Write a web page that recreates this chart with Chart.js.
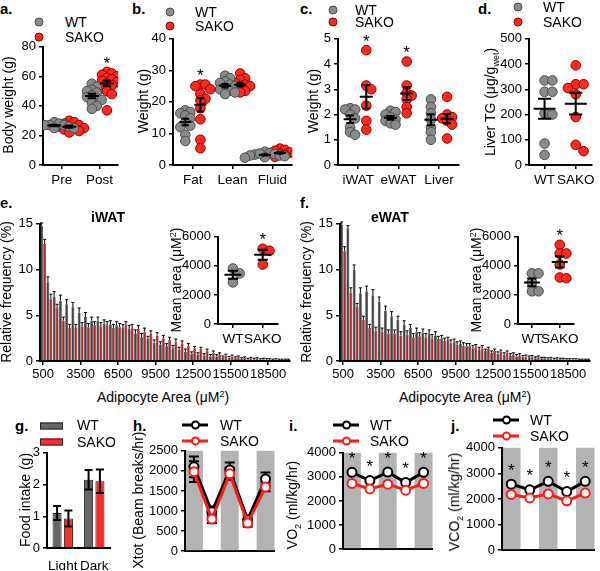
<!DOCTYPE html>
<html>
<head>
<meta charset="utf-8">
<script src="https://cdn.jsdelivr.net/npm/chart.js@4.4.1/dist/chart.umd.min.js"></script>
<style>
body { margin:0; background:#fff; width:600px; height:571px; position:relative; overflow:hidden;
       font-family:"Liberation Sans", Arial, sans-serif; color:#000; }
canvas { position:absolute; }
.t { position:absolute; white-space:nowrap; font-size:14px; line-height:1; transform:translateY(-50%); }
.tc { position:absolute; white-space:nowrap; font-size:14px; line-height:1; transform:translate(-50%,-50%); }
.yt { position:absolute; white-space:nowrap; font-size:14px; line-height:1; transform:translate(-50%,-50%) rotate(-90deg); }
.b { font-weight:bold; }
.lt { font-weight:bold; font-size:15px; }
sub, sup { font-size:9px; }
.dot { position:absolute; width:9px; height:9px; border-radius:50%; transform:translate(-50%,-50%); box-sizing:border-box; border:1px solid; }
.rect { position:absolute; width:23px; height:7px; transform:translateY(-50%); box-sizing:border-box; border:1px solid #222; }
.ln { position:absolute; width:26px; height:3px; transform:translateY(-50%); }
.ln i { position:absolute; left:9px; top:-3px; width:9px; height:9px; border-radius:50%; background:#fff; box-sizing:border-box; border:2px solid; }
</style>
</head>
<body>
<script>
// ---- data ----
var bodyCats = ['Pre', 'Post'];
var bodyWT = [[29, 28, 27, 27, 26, 26, 25, 25, 27], [55, 53, 51, 50, 49, 47, 46, 45, 44, 42, 40, 38]];
var bodyKO = [[30, 29, 28, 27, 26, 26, 25, 25, 24, 23, 22], [63, 62, 61, 60, 59, 58, 57, 56, 55, 54, 52, 50, 48, 37]];

var compCats = ['Fat', 'Lean', 'Fluid'];
var compWT = [[17.3, 16.8, 16.4, 15.7, 14.8, 13.5, 12.5, 12.0, 9.6, 7.6],
              [28.3, 27.5, 26.5, 26, 25.5, 25, 24.5, 24, 23.5, 23, 22.5],
              [4.2, 3.8, 3.5, 3.3, 3.0, 3.0, 2.8, 2.5, 2.3, 3.6]];
var compKO = [[25.5, 25.5, 25, 24, 22.5, 21, 20.5, 18, 14.5, 8, 5.3],
              [29, 27.5, 27, 26, 25.5, 25, 25, 24.5, 24, 23.5, 23],
              [5.2, 4.8, 4.5, 4.0, 3.8, 3.6, 3.5, 3.2, 3.0, 2.6]];

var tisCats = ['iWAT', 'eWAT', 'Liver'];
var tisWT = [[2.25, 2.2, 2.2, 2.0, 1.85, 1.5, 1.3, 1.2],
             [2.15, 2.1, 2.0, 1.9, 1.8, 1.75, 1.65, 1.6],
             [2.6, 2.3, 2.05, 1.8, 1.5, 1.3, 1.0]];
var tisKO = [[4.55, 3.15, 3.0, 2.35, 1.75, 1.4],
             [4.1, 3.15, 2.85, 2.75, 2.6, 2.3, 2.05],
             [2.7, 2.0, 1.9, 1.85, 1.75, 1.6, 1.05]];

var genoCats = ['WT', 'SAKO'];
var tgWT = [335, 335, 290, 290, 205, 200, 85, 40];
var tgKO = [395, 320, 320, 305, 280, 190, 80, 55];

var areaWTi = [3820, 3480, 2860];
var areaKOi = [5180, 5040, 4090];
var areaWTe = [3480, 3480, 2860, 2250, 2250];
var areaKOe = [5450, 4850, 4850, 4100, 3200, 3150];

var histBins = ['500','1000','1500','2000','2500','3000','3500','4000','4500','5000',
                '5500','6000','6500','7000','7500','8000','8500','9000','9500','10000',
                '10500','11000','11500','12000','12500','13000','13500','14000','14500','15000',
                '15500','16000','16500','17000','17500','18000','18500','19000','19500','20000'];
var iwatWT = [14.8, 8.6, 7.0, 6.6, 6.2, 5.9, 5.3, 4.8, 4.4, 4.4, 4.1, 4.0, 3.9, 3.6, 3.5, 3.0, 2.6, 2.4, 2.0, 1.8,
              1.6, 1.4, 1.2, 1.0, 0.8, 0.7, 0.6, 0.5, 0.5, 0.4, 0.35, 0.3, 0.25, 0.2, 0.2, 0.15, 0.15, 0.1, 0.1, 0.1];
var iwatWTerr = [0.3, 0.6, 0.6, 0.6, 0.5, 0.5, 0.5, 0.5, 0.4, 0.4, 0.4, 0.4, 0.4, 0.4, 0.4, 0.4, 0.4, 0.3, 0.3, 0.3,
                 0.3, 0.3, 0.3, 0.3, 0.2, 0.2, 0.2, 0.2, 0.2, 0.15, 0.15, 0.15, 0.1, 0.1, 0.1, 0.1, 0.1, 0.1, 0.1, 0.1];
var iwatKO = [12.8, 6.8, 5.8, 4.4, 3.6, 3.6, 3.8, 3.7, 3.9, 3.8, 3.9, 3.6, 3.7, 3.9, 3.6, 3.5, 3.2, 3.0, 2.8, 2.5,
              2.3, 2.1, 1.9, 1.6, 1.4, 1.3, 1.1, 0.9, 0.7, 0.6, 0.5, 0.4, 0.35, 0.3, 0.25, 0.2, 0.15, 0.15, 0.1, 0.1];
var iwatKOerr = [0.5, 0.5, 0.4, 0.4, 0.4, 0.4, 0.4, 0.4, 0.4, 0.4, 0.4, 0.4, 0.4, 0.4, 0.4, 0.4, 0.4, 0.3, 0.3, 0.3,
                 0.3, 0.3, 0.3, 0.3, 0.2, 0.2, 0.2, 0.2, 0.2, 0.15, 0.15, 0.15, 0.1, 0.1, 0.1, 0.1, 0.1, 0.1, 0.1, 0.1];
var ewatWT = [14.9, 14.5, 10.0, 7.4, 7.6, 7.2, 6.5, 5.5, 4.9, 4.5, 4.0, 3.6, 3.2, 3.1, 3.0, 2.8, 2.5, 2.3, 2.1, 1.9,
              1.6, 1.4, 1.2, 1.1, 0.9, 0.8, 0.7, 0.6, 0.5, 0.45, 0.4, 0.3, 0.3, 0.25, 0.2, 0.2, 0.15, 0.15, 0.1, 0.1];
var ewatWTerr = [0.3, 0.3, 0.5, 0.6, 0.6, 0.6, 0.5, 0.5, 0.5, 0.4, 0.4, 0.4, 0.4, 0.4, 0.4, 0.4, 0.3, 0.3, 0.3, 0.3,
                 0.3, 0.3, 0.3, 0.2, 0.2, 0.2, 0.2, 0.2, 0.2, 0.15, 0.15, 0.15, 0.1, 0.1, 0.1, 0.1, 0.1, 0.1, 0.1, 0.1];
var ewatKO = [12.0, 7.5, 5.9, 4.5, 3.6, 3.3, 3.2, 3.0, 3.0, 2.8, 2.9, 2.6, 2.7, 2.6, 2.5, 2.4, 2.2, 2.0, 1.8, 1.7,
              1.6, 1.5, 1.4, 1.3, 1.1, 1.0, 0.9, 0.7, 0.6, 0.5, 0.45, 0.4, 0.3, 0.3, 0.25, 0.2, 0.15, 0.15, 0.1, 0.1];
var ewatKOerr = [0.5, 0.5, 0.4, 0.4, 0.4, 0.4, 0.4, 0.4, 0.4, 0.4, 0.4, 0.4, 0.4, 0.4, 0.4, 0.3, 0.3, 0.3, 0.3, 0.3,
                 0.3, 0.3, 0.3, 0.2, 0.2, 0.2, 0.2, 0.2, 0.2, 0.15, 0.15, 0.15, 0.1, 0.1, 0.1, 0.1, 0.1, 0.1, 0.1, 0.1];

var foodCats = ['Light', 'Dark'];
var foodWT = [1.1, 2.15];
var foodWTerr = [0.22, 0.31];
var foodKO = [0.93, 2.1];
var foodKOerr = [0.25, 0.37];

var phases = ['Dark', 'Light', 'Dark', 'Light', 'Dark'];
var xtotWT = [2100, 980, 2020, 780, 1800];
var xtotWTerr = [260, 130, 190, 110, 160];
var xtotKO = [1980, 800, 1930, 700, 1600];
var xtotKOerr = [260, 100, 150, 90, 110];
var vo2WT = [3190, 2850, 3200, 2770, 3190];
var vo2KO = [2730, 2500, 2700, 2450, 2730];
var vco2WT = [2580, 2360, 2690, 2290, 2690];
var vco2KO = [2180, 2040, 2200, 1930, 2230];

// ---- setup ----
Chart.defaults.font.family = "'Liberation Sans', Arial, sans-serif";
Chart.defaults.font.size = 13;
Chart.defaults.color = '#000';
Chart.defaults.animation = false;
Chart.defaults.plugins.legend.display = false;
Chart.defaults.plugins.tooltip.enabled = false;

var GRAY = '#8a8a8a', GRAYLINE = '#4a4a4a', RED = '#ff2a1f', REDLINE = '#8a0000';

function txt(html, x, y, cls) {
	var d = document.createElement('div');
	d.className = cls || 't';
	d.innerHTML = html;
	d.style.left = x + 'px';
	d.style.top = y + 'px';
	document.body.appendChild(d);
	return d;
}
function dotKey(x, y, fill, line) {
	var d = txt('', x, y, 'dot');
	d.style.background = fill; d.style.borderColor = line;
}
function rectKey(x, y, fill) {
	var d = txt('', x, y, 'rect');
	d.style.background = fill;
}
function lineKey(x, y, col) {
	var d = txt('<i></i>', x, y, 'ln');
	d.style.background = col;
	d.firstChild.style.borderColor = col;
}

function yAxis(min, max, step) {
	return {
		min: min, max: max,
		ticks: { stepSize: step, padding: 3, font: { size: 13 }, callback: function(v) { return String(v); } },
		grid: { display: true, drawOnChartArea: false, drawTicks: true, tickLength: 4, color: '#000', lineWidth: 1.5 },
		border: { display: true, color: '#000', width: 2 }
	};
}

// place a chart so that its plot area is at area = [left, top, right, bottom]
function panel(area, pad, cfg) {
	var x0 = area[0] - pad.y, y0 = area[1] - pad.t;
	var w = area[2] + pad.r - x0, h = area[3] + pad.x - y0;
	var cv = document.createElement('canvas');
	cv.width = w; cv.height = h;
	cv.style.left = x0 + 'px'; cv.style.top = y0 + 'px';
	cv.style.width = w + 'px'; cv.style.height = h + 'px';
	document.body.appendChild(cv);
	cfg.options.responsive = false;
	cfg.options.layout = { padding: { top: pad.t, right: pad.r, left: 0, bottom: 0 } };
	cfg.options.scales.x.afterFit = function(s) { s.height = pad.x; };
	cfg.options.scales.y.afterFit = function(s) { s.width = pad.y; };
	return new Chart(cv, cfg);
}

// simple beeswarm so dots of similar value sit side by side
function swarm(vals, center, dx, dy) {
	var placed = [], out = [];
	var order = vals.map(function(v, i) { return i; }).sort(function(a, b) { return vals[b] - vals[a]; });
	var slots = [0, 1, -1, 2, -2, 3, -3, 4, -4];
	order.forEach(function(i) {
		var v = vals[i];
		for (var k = 0; k < slots.length; k++) {
			var s = slots[k];
			var clash = placed.some(function(p) { return p.s === s && Math.abs(p.v - v) < dy; });
			if (!clash || k === slots.length - 1) {
				placed.push({ s: s, v: v });
				out[i] = { x: center + s * dx, y: v };
				break;
			}
		}
	});
	return out;
}

function mean(a) { return a.reduce(function(s, v) { return s + v; }, 0) / a.length; }
function sem(a) {
	var m = mean(a);
	var sd = Math.sqrt(a.reduce(function(s, v) { return s + (v - m) * (v - m); }, 0) / (a.length - 1));
	return sd / Math.sqrt(a.length);
}

function star(ctx, x, y) {
	ctx.save();
	ctx.fillStyle = '#000';
	ctx.font = '17px "Liberation Sans", Arial, sans-serif';
	ctx.textAlign = 'center';
	ctx.textBaseline = 'middle';
	ctx.fillText('*', x, y + 4);
	ctx.restore();
}

// mean +/- SEM over dot plots, and stars
var meanPlugin = {
	id: 'meanSem',
	afterDatasetsDraw: function(chart) {
		var ctx = chart.ctx, xs = chart.scales.x, ys = chart.scales.y;
		chart.data.datasets.forEach(function(ds) {
			var m = mean(ds.vals), e = sem(ds.vals);
			var cx = xs.getPixelForValue(ds.center);
			var hw = ds.meanW / 2, cw = ds.meanW * 0.3;
			ctx.save();
			ctx.strokeStyle = '#000';
			ctx.lineWidth = 2;
			ctx.beginPath();
			ctx.moveTo(cx - hw, ys.getPixelForValue(m)); ctx.lineTo(cx + hw, ys.getPixelForValue(m));
			ctx.moveTo(cx, ys.getPixelForValue(m - e)); ctx.lineTo(cx, ys.getPixelForValue(m + e));
			ctx.moveTo(cx - cw, ys.getPixelForValue(m - e)); ctx.lineTo(cx + cw, ys.getPixelForValue(m - e));
			ctx.moveTo(cx - cw, ys.getPixelForValue(m + e)); ctx.lineTo(cx + cw, ys.getPixelForValue(m + e));
			ctx.stroke();
			ctx.restore();
			if (ds.star) {
				star(ctx, cx, ys.getPixelForValue(Math.max.apply(null, ds.vals)) - 12);
			}
		});
	}
};

function dotChart(area, pad, cats, groups, y) {
	var pxX = (area[2] - area[0]) / cats.length;
	var pxY = (area[3] - area[1]) / (y.max - y.min);
	var datasets = groups.map(function(g) {
		var wt = g.kind === 'wt';
		return {
			data: swarm(g.vals, g.pos, y.dx / pxX, y.dy / pxY),
			vals: g.vals, center: g.pos, star: g.star, meanW: y.meanW,
			pointRadius: 4.8, pointBorderWidth: 1,
			pointBackgroundColor: wt ? GRAY : RED,
			pointBorderColor: wt ? GRAYLINE : REDLINE
		};
	});
	var ya = yAxis(y.min, y.max, y.step);
	var xa = {
		type: 'linear', min: 0, max: cats.length,
		afterBuildTicks: function(s) { s.ticks = cats.map(function(c, i) { return { value: i + 0.5 }; }); },
		ticks: { padding: 3, autoSkip: false, maxRotation: 0, font: { size: 13.5 },
			callback: function(v) { return cats[Math.round(v - 0.5)]; } },
		grid: { display: true, drawOnChartArea: false, drawTicks: true, tickLength: 4, color: '#000', lineWidth: 1.5 },
		border: { display: true, color: '#000', width: 2 }
	};
	return panel(area, pad, {
		type: 'scatter',
		data: { datasets: datasets },
		options: { scales: { x: xa, y: ya } },
		plugins: [meanPlugin]
	});
}

function pairGroups(cats, wt, ko, off, starIdx) {
	var out = [];
	cats.forEach(function(c, i) {
		out.push({ vals: wt[i], pos: i + 0.5 - off, kind: 'wt' });
		out.push({ vals: ko[i], pos: i + 0.5 + off, kind: 'ko', star: starIdx.indexOf(i) >= 0 });
	});
	return out;
}

// ---- a ----
dotChart([43, 46, 120, 165], { y: 43, x: 30, t: 10, r: 4 }, bodyCats,
	pairGroups(bodyCats, bodyWT, bodyKO, 0.2, [1]),
	{ min: 0, max: 80, step: 20, dx: 5, dy: 5, meanW: 14 });
// ---- b ----
dotChart([173, 38, 293, 165], { y: 40, x: 30, t: 10, r: 5 }, compCats,
	pairGroups(compCats, compWT, compKO, 0.19, [0]),
	{ min: 0, max: 40, step: 10, dx: 5, dy: 5, meanW: 12 });
// ---- c ----
dotChart([338, 38, 460, 165], { y: 30, x: 30, t: 10, r: 5 }, tisCats,
	pairGroups(tisCats, tisWT, tisKO, 0.2, [0, 1]),
	{ min: 0, max: 5, step: 1, dx: 5, dy: 5, meanW: 13 });
// ---- d ----
dotChart([529, 38, 593, 165], { y: 32, x: 30, t: 10, r: 6 }, genoCats,
	[{ vals: tgWT, pos: 0.5, kind: 'wt' }, { vals: tgKO, pos: 1.5, kind: 'ko' }],
	{ min: 0, max: 500, step: 100, dx: 8, dy: 7, meanW: 22 });

// ---- histograms ----
var errPlugin = {
	id: 'errBars',
	afterDatasetsDraw: function(chart) {
		var ctx = chart.ctx, ys = chart.scales.y;
		chart.data.datasets.forEach(function(ds, di) {
			if (!ds.err) return;
			var meta = chart.getDatasetMeta(di);
			ctx.save();
			ctx.strokeStyle = '#000';
			ctx.lineWidth = ds.errW || 1;
			ctx.beginPath();
			meta.data.forEach(function(bar, i) {
				var v = ds.data[i], e = ds.err[i];
				var top = ys.getPixelForValue(v + e);
				var bot = ds.upOnly ? ys.getPixelForValue(v) : ys.getPixelForValue(v - e);
				ctx.moveTo(bar.x, bot); ctx.lineTo(bar.x, top);
				ctx.moveTo(bar.x - ds.cap, top); ctx.lineTo(bar.x + ds.cap, top);
				if (!ds.upOnly) { ctx.moveTo(bar.x - ds.cap, bot); ctx.lineTo(bar.x + ds.cap, bot); }
			});
			ctx.stroke();
			ctx.restore();
		});
	}
};

function histChart(area, wt, wtErr, ko, koErr) {
	var xa = {
		type: 'category', offset: true,
		afterBuildTicks: function(s) { s.ticks = s.ticks.filter(function(t) { return t.value % 6 === 0; }); },
		ticks: { autoSkip: false, maxRotation: 0, padding: 2, font: { size: 13 } },
		grid: { display: true, offset: false, drawOnChartArea: false, drawTicks: true, tickLength: 4, color: '#000', lineWidth: 1.5 },
		border: { display: true, color: '#000', width: 2 }
	};
	return panel(area, { y: 40, x: 22, t: 10, r: 4 }, {
		type: 'bar',
		data: {
			labels: histBins,
			datasets: [
				{ data: wt, err: wtErr, upOnly: true, cap: 1.5, backgroundColor: '#444', borderColor: '#111', borderWidth: 0.5,
				  categoryPercentage: 0.95, barPercentage: 0.95 },
				{ data: ko, err: koErr, upOnly: true, cap: 1.5, backgroundColor: '#b8222a', borderColor: '#5a0c0c', borderWidth: 0.5,
				  categoryPercentage: 0.95, barPercentage: 0.95 }
			]
		},
		options: { scales: { x: xa, y: yAxis(0, 15, 5) } },
		plugins: [errPlugin]
	});
}
histChart([40, 223, 290, 361], iwatWT, iwatWTerr, iwatKO, iwatKOerr);
histChart([340, 223, 590, 361], ewatWT, ewatWTerr, ewatKO, ewatKOerr);

// insets
dotChart([218, 236, 280, 324], { y: 40, x: 22, t: 10, r: 6 }, genoCats,
	[{ vals: areaWTi, pos: 0.5, kind: 'wt' }, { vals: areaKOi, pos: 1.5, kind: 'ko', star: true }],
	{ min: 0, max: 6000, step: 2000, dx: 7, dy: 7, meanW: 17 });
dotChart([518, 236, 577, 324], { y: 40, x: 22, t: 10, r: 6 }, genoCats,
	[{ vals: areaWTe, pos: 0.5, kind: 'wt' }, { vals: areaKOe, pos: 1.5, kind: 'ko', star: true }],
	{ min: 0, max: 6000, step: 2000, dx: 7, dy: 7, meanW: 16 });

// ---- g ----
panel([47, 452, 110, 548], { y: 40, x: 22, t: 10, r: 4 }, {
	type: 'bar',
	data: {
		labels: foodCats,
		datasets: [
			{ data: foodWT, err: foodWTerr, cap: 4, errW: 2, backgroundColor: '#666', borderColor: '#222', borderWidth: 1,
			  categoryPercentage: 0.72, barPercentage: 0.8 },
			{ data: foodKO, err: foodKOerr, cap: 4, errW: 2, backgroundColor: '#ff2a2a', borderColor: '#222', borderWidth: 1,
			  categoryPercentage: 0.72, barPercentage: 0.8 }
		]
	},
	options: { scales: {
		x: { ticks: { padding: 2, autoSkip: false, maxRotation: 0, font: { size: 13.5 } }, grid: { display: false },
		     border: { display: true, color: '#000', width: 2 } },
		y: yAxis(0, 3, 1)
	} },
	plugins: [errPlugin]
});

// ---- h, i, j ----
var bandPlugin = {
	id: 'bands',
	beforeDatasetsDraw: function(chart) {
		var ctx = chart.ctx, xs = chart.scales.x, ys = chart.scales.y, a = chart.chartArea;
		var half = (a.right - a.left) / phases.length / 2;
		ctx.save();
		ctx.fillStyle = '#b3b3b3';
		phases.forEach(function(p, i) {
			if (p !== 'Dark') return;
			var x = xs.getPixelForValue(i);
			var l = Math.max(x - half, a.left + 1), r = Math.min(x + half, a.right);
			ctx.fillRect(l, a.top, r - l, a.bottom - a.top - 1);
		});
		ctx.restore();
		// error bars sit under the lines
		chart.data.datasets.forEach(function(ds, di) {
			if (!ds.err) return;
			ctx.save();
			ctx.strokeStyle = '#000';
			ctx.lineWidth = 2;
			ctx.beginPath();
			ds.data.forEach(function(v, i) {
				var x = xs.getPixelForValue(i), t = ys.getPixelForValue(v + ds.err[i]), b = ys.getPixelForValue(v - ds.err[i]);
				ctx.moveTo(x, t); ctx.lineTo(x, b);
				ctx.moveTo(x - 5, t); ctx.lineTo(x + 5, t);
				ctx.moveTo(x - 5, b); ctx.lineTo(x + 5, b);
			});
			ctx.stroke();
			ctx.restore();
		});
	},
	afterDatasetsDraw: function(chart) {
		var xs = chart.scales.x, ys = chart.scales.y;
		chart.data.datasets.forEach(function(ds) {
			if (!ds.stars) return;
			ds.data.forEach(function(v, i) { star(chart.ctx, xs.getPixelForValue(i), ys.getPixelForValue(v) - 17); });
		});
	}
};

function lineSet(vals, col, extra) {
	return Object.assign({
		data: vals, borderColor: col, borderWidth: 3, tension: 0,
		pointRadius: 4.5, pointBorderWidth: 2, pointBackgroundColor: '#fff', pointBorderColor: col
	}, extra || {});
}

function timeChart(area, padY, y, wt, ko, wtExtra, koExtra) {
	return panel(area, { y: padY, x: 4, t: 10, r: 3 }, {
		type: 'line',
		data: { labels: phases, datasets: [lineSet(ko, '#ff1a1a', koExtra), lineSet(wt, '#000', wtExtra)] },
		options: { scales: {
			x: { offset: true, ticks: { display: false }, grid: { display: false }, border: { display: true, color: '#000', width: 2 } },
			y: yAxis(y.min, y.max, y.step)
		} },
		plugins: [bandPlugin]
	});
}
timeChart([185, 450, 278, 558], 36, { min: 0, max: 2500, step: 500 }, xtotWT, xtotKO,
	{ err: xtotWTerr }, { err: xtotKOerr });
timeChart([343, 452, 436, 556], 40, { min: 0, max: 4000, step: 1000 }, vo2WT, vo2KO, { stars: true }, {});
timeChart([502, 447, 598, 557], 40, { min: 0, max: 4000, step: 1000 }, vco2WT, vco2KO, { stars: true }, {});

// ---- text: panel letters, axis titles, legends ----
[['a.', 0, 8], ['b.', 132, 8], ['c.', 300, 8], ['d.', 478, 8], ['e.', 0, 202], ['f.', 300, 202],
 ['g.', 15, 425], ['h.', 133, 425], ['i.', 289, 425], ['j.', 451, 425]].forEach(function(l) {
	txt(l[0], l[1], l[2], 't lt');
});

txt('Body weight (g)', 8, 105, 'yt');
txt('Weight (g)', 143, 101, 'yt');
txt('Weight (g)', 313, 101, 'yt');
txt('Liver TG (μg/g<sub>wet</sub>)', 492, 102, 'yt');
txt('Relative frequency (%)', 6, 292, 'yt');
txt('Relative frequency (%)', 306, 292, 'yt');
txt('Mean area (μM<sup>2</sup>)', 176, 280, 'yt');
txt('Mean area (μM<sup>2</sup>)', 476, 280, 'yt');
txt('Adipocyte Area (μM<sup>2</sup>)', 163, 397, 'tc');
txt('Adipocyte Area (μM<sup>2</sup>)', 465, 397, 'tc');
txt('iWAT', 108, 217, 'tc b');
txt('eWAT', 390, 217, 'tc b');
txt('Food intake (g)', 25, 500, 'yt');
txt('Xtot (Beam breaks/hr)', 138, 500, 'yt');
txt('VO<sub>2</sub> (ml/kg/hr)', 294, 505, 'yt');
txt('VCO<sub>2</sub> (ml/kg/hr)', 456, 502, 'yt');

[[39, 22, 37, 65], [170, 12, 26, 195], [333, 10, 22, 355], [518, 7, 22, 543]].forEach(function(k) {
	dotKey(k[0], k[1], GRAY, GRAYLINE); txt('WT', k[3], k[1]);
	dotKey(k[0], k[2], RED, REDLINE); txt('SAKO', k[3], k[2]);
});
rectKey(40, 426, '#666'); txt('WT', 77, 425);
rectKey(40, 442, '#ff2a2a'); txt('SAKO', 77, 442);
[[182, 425, 441, 220], [333, 425, 441, 370], [493, 420, 436, 530]].forEach(function(k) {
	lineKey(k[0], k[1], '#000'); txt('WT', k[3], k[1]);
	lineKey(k[0], k[2], '#ff1a1a'); txt('SAKO', k[3], k[2]);
});
</script>
</body>
</html>
